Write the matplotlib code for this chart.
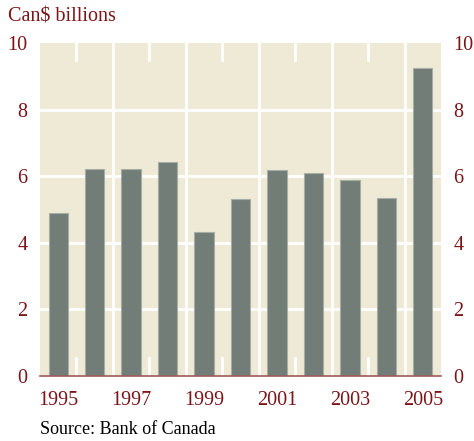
import numpy as np
import matplotlib
matplotlib.use("Agg")
import matplotlib.pyplot as plt

### Chart data
years = [1995, 1996, 1997, 1998, 1999, 2000, 2001, 2002, 2003, 2004, 2005]
values = [4.9, 6.22, 6.23, 6.44, 4.31, 5.33, 6.2, 6.1, 5.9, 5.35, 9.26]
yticks = [0, 2, 4, 6, 8, 10]
year_labels = ["1995", "", "1997", "", "1999", "", "2001", "", "2003", "", "2005"]

red = "#7b1518"
bg = "#efead6"
bar_col = "#737d77"

plt.rcParams["font.family"] = ["Liberation Serif", "DejaVu Serif"]

W, H = 474, 441
fig = plt.figure(figsize=(W / 100, H / 100), dpi=100)
ax = fig.add_axes([40 / W, (H - 376) / H, 401 / W, 333 / H])
ax.set_facecolor(bg)

x = np.arange(len(years))
ax.set_xlim(-0.5, len(years) - 0.5)
ax.set_ylim(0, 10)

### white grid: horizontal lines and vertical separators
for yv in yticks[1:-1]:
    ax.axhline(yv, color="white", lw=2, zorder=1)
for i in range(len(years) - 1):
    xb = i + 0.5
    if i % 2 == 1:
        ax.axvline(xb, color="white", lw=2, zorder=1)
    else:
        ax.plot([xb, xb], [10, 9.48], color="white", lw=2, zorder=1)
        ax.plot([xb, xb], [0, 0.55], color="white", lw=2, zorder=1)

ax.bar(x, values, width=0.53, color=bar_col, edgecolor="#a7aea6",
       linewidth=0.8, zorder=2)

### spines and ticks
for s in ["top", "left", "right"]:
    ax.spines[s].set_visible(False)
ax.spines["bottom"].set_color("#a05a5a")
ax.spines["bottom"].set_linewidth(1.2)
ax.spines["bottom"].set_zorder(3)

ax.set_yticks(yticks)
ax.set_yticklabels([str(v) for v in yticks])
ax.set_xticks(x)
ax.set_xticklabels(year_labels)
ax.tick_params(axis="y", length=0, pad=9, labelsize=14.5, labelcolor=red,
               labelleft=True, labelright=True)
ax.tick_params(axis="x", length=0, pad=11, labelsize=14.5, labelcolor=red)

fig.text(8 / W, 1 - 17 / H, "Can$ billions", color=red, fontsize=14.5,
         ha="left", va="center")
fig.text(40 / W, 1 - 430 / H, "Source: Bank of Canada", color="black",
         fontsize=13, ha="left", va="center")

plt.savefig("out.png", dpi=100)
